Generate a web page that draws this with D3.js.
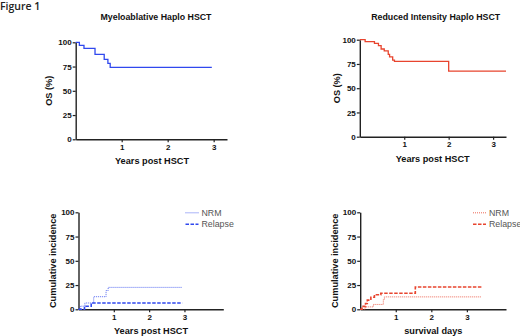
<!DOCTYPE html>
<html>
<head>
<meta charset="utf-8">
<script src="https://cdn.jsdelivr.net/npm/d3@7"></script>
<style>
  body { margin: 0; background: #fff; }
  svg { display: block; font-family: "Liberation Sans", Arial, sans-serif; }
</style>
</head>
<body>
<svg id="chart" width="520" height="336"></svg>
<script>
// overall survival, myeloablative
const maTime = [0, 0.08, 0.18, 0.42, 0.62, 0.70, 0.75, 2.96]
const maOS = [100, 96.9, 93.8, 87.5, 82.5, 78.3, 74.2, 74.2]
// overall survival, reduced intensity
const riTime = [0, 0.12, 0.33, 0.42, 0.48, 0.55, 0.64, 0.67, 0.74, 0.78, 2.0, 3.29]
const riOS = [100, 98, 96.3, 93.8, 90.4, 88.4, 84.9, 82.2, 79, 77.7, 67.7, 67.7]
// cumulative incidence, myeloablative
const maNrmTime = [0, 0.05, 0.18, 0.43, 0.78, 0.84, 2.94]
const maNrm = [0, 3.2, 6.5, 13, 19.4, 22.6, 22.6]
const maRelTime = [0, 0.17, 0.36, 2.94]
const maRel = [0, 3.2, 6.5, 6.5]
// cumulative incidence, reduced intensity
const riNrmTime = [0, 0.14, 0.37, 0.65, 0.68, 3.4]
const riNrm = [0, 2.5, 5, 10, 12.8, 12.8]
const riRelTime = [0, 0.05, 0.15, 0.2, 0.3, 0.4, 0.58, 1.55, 3.45]
const riRel = [0, 3, 6, 9.5, 12.5, 15, 16.5, 23, 23]

const yTicks = [0, 25, 50, 75, 100]
const xTicks = [1, 2, 3]
const legendLabels = ["NRM", "Relapse"]

const blue = "#3048ee"
const red = "#e8442e"

const svg = d3.select("#chart")

svg.append("text")
  .attr("x", 0)
  .attr("y", 10)
  .style("font-family", "'Open Sans', sans-serif")
  .style("font-size", "10.5px")
  .style("font-weight", 600)
  .style("fill", "#222")
  .text("Figure 1")

const drawPanel = (p) => {
  const x = d3.scaleLinear().domain([0, p.xMax]).range([p.left, p.right])
  const y = d3.scaleLinear().domain([0, 100]).range([p.bottom, p.top])

  const g = svg.append("g")

  const yAxis = g.append("g")
    .attr("transform", `translate(${p.left},0)`)
    .call(d3.axisLeft(y).tickValues(yTicks).tickFormat(d3.format("d")).tickSize(3).tickSizeOuter(0))
  const xAxis = g.append("g")
    .attr("transform", `translate(0,${p.bottom})`)
    .call(d3.axisBottom(x).tickValues(xTicks).tickFormat(d3.format("d")).tickSize(3).tickSizeOuter(0))

  for (const ax of [yAxis, xAxis]) {
    ax.select(".domain").attr("stroke", "#222").attr("stroke-width", 1.4)
    ax.selectAll(".tick line").attr("stroke", "#222").attr("stroke-width", 1.2)
    ax.selectAll(".tick text")
      .style("font-size", "8px")
      .style("font-weight", "bold")
      .style("fill", "#111")
      .style("font-family", "'Liberation Sans', Arial, sans-serif")
  }
  yAxis.selectAll(".tick text").attr("x", -4)
  xAxis.selectAll(".tick text").attr("y", 5)

  if (p.title) {
    g.append("text")
      .attr("x", p.titleX)
      .attr("y", p.titleY)
      .attr("text-anchor", "middle")
      .style("font-size", "8.8px")
      .style("font-weight", "bold")
      .style("fill", "#111")
      .text(p.title)
  }

  g.append("text")
    .attr("x", p.xLabelX)
    .attr("y", p.bottom + 25)
    .attr("text-anchor", "middle")
    .style("font-size", "9.2px")
    .style("font-weight", "bold")
    .style("fill", "#111")
    .text(p.xLabel)

  g.append("text")
    .attr("transform", `translate(${p.yLabelX},${(p.top + p.bottom) / 2}) rotate(-90)`)
    .attr("text-anchor", "middle")
    .style("font-size", "9.2px")
    .style("font-weight", "bold")
    .style("fill", "#111")
    .text(p.yLabel)

  const line = d3.line()
    .x(d => x(d[0]))
    .y(d => y(d[1]))
    .curve(d3.curveStepAfter)

  p.series.forEach(s => {
    g.append("path")
      .datum(d3.zip(s.time, s.values))
      .attr("d", line)
      .attr("fill", "none")
      .attr("stroke", s.color)
      .attr("stroke-width", s.width)
      .attr("stroke-dasharray", s.dash)
      .attr("opacity", s.opacity || 1)
  })

  if (p.legend) {
    p.series.forEach((s, i) => {
      const ly = p.top + 0.5 + i * 11.5
      g.append("line")
        .attr("x1", p.legendX)
        .attr("x2", p.legendX + 13)
        .attr("y1", ly)
        .attr("y2", ly)
        .attr("stroke", s.color)
        .attr("stroke-width", s.width)
        .attr("stroke-dasharray", s.dash)
        .attr("opacity", s.opacity || 1)
      g.append("text")
        .attr("x", p.legendX + 16)
        .attr("y", ly + 3)
        .style("font-size", "8.8px")
        .style("fill", "#555")
        .text(legendLabels[i])
    })
  }
}

drawPanel({
  left: 75.7, right: 227, top: 42.3, bottom: 139.3, xMax: 3.29,
  title: "Myeloablative Haplo HSCT", titleX: 156, titleY: 19.5,
  xLabel: "Years post HSCT", xLabelX: 152, yLabel: "OS (%)", yLabelX: 52,
  series: [{ time: maTime, values: maOS, color: blue, width: 1.3, dash: null }]
})

drawPanel({
  left: 359.8, right: 506, top: 39.7, bottom: 136.7, xMax: 3.29,
  title: "Reduced Intensity Haplo HSCT", titleX: 435.7, titleY: 19.5,
  xLabel: "Years post HSCT", xLabelX: 432.7, yLabel: "OS (%)", yLabelX: 340,
  series: [{ time: riTime, values: riOS, color: red, width: 1.3, dash: null }]
})

drawPanel({
  left: 78.5, right: 223.3, top: 212.3, bottom: 309.3, xMax: 4.1,
  xLabel: "Years post HSCT", xLabelX: 151, yLabel: "Cumulative incidence", yLabelX: 55.5,
  legend: true, legendX: 185.5,
  series: [
    { time: maNrmTime, values: maNrm, color: blue, width: 1, dash: "1,1", opacity: 0.8 },
    { time: maRelTime, values: maRel, color: blue, width: 1.6, dash: "3.5,1.5" }
  ]
})

drawPanel({
  left: 360.2, right: 506, top: 212.3, bottom: 309.3, xMax: 4.1,
  xLabel: "survival days", xLabelX: 433.3, yLabel: "Cumulative incidence", yLabelX: 337.5,
  legend: true, legendX: 473,
  series: [
    { time: riNrmTime, values: riNrm, color: red, width: 1, dash: "1,1", opacity: 0.8 },
    { time: riRelTime, values: riRel, color: red, width: 1.6, dash: "3.5,1.5" }
  ]
})
</script>
</body>
</html>
